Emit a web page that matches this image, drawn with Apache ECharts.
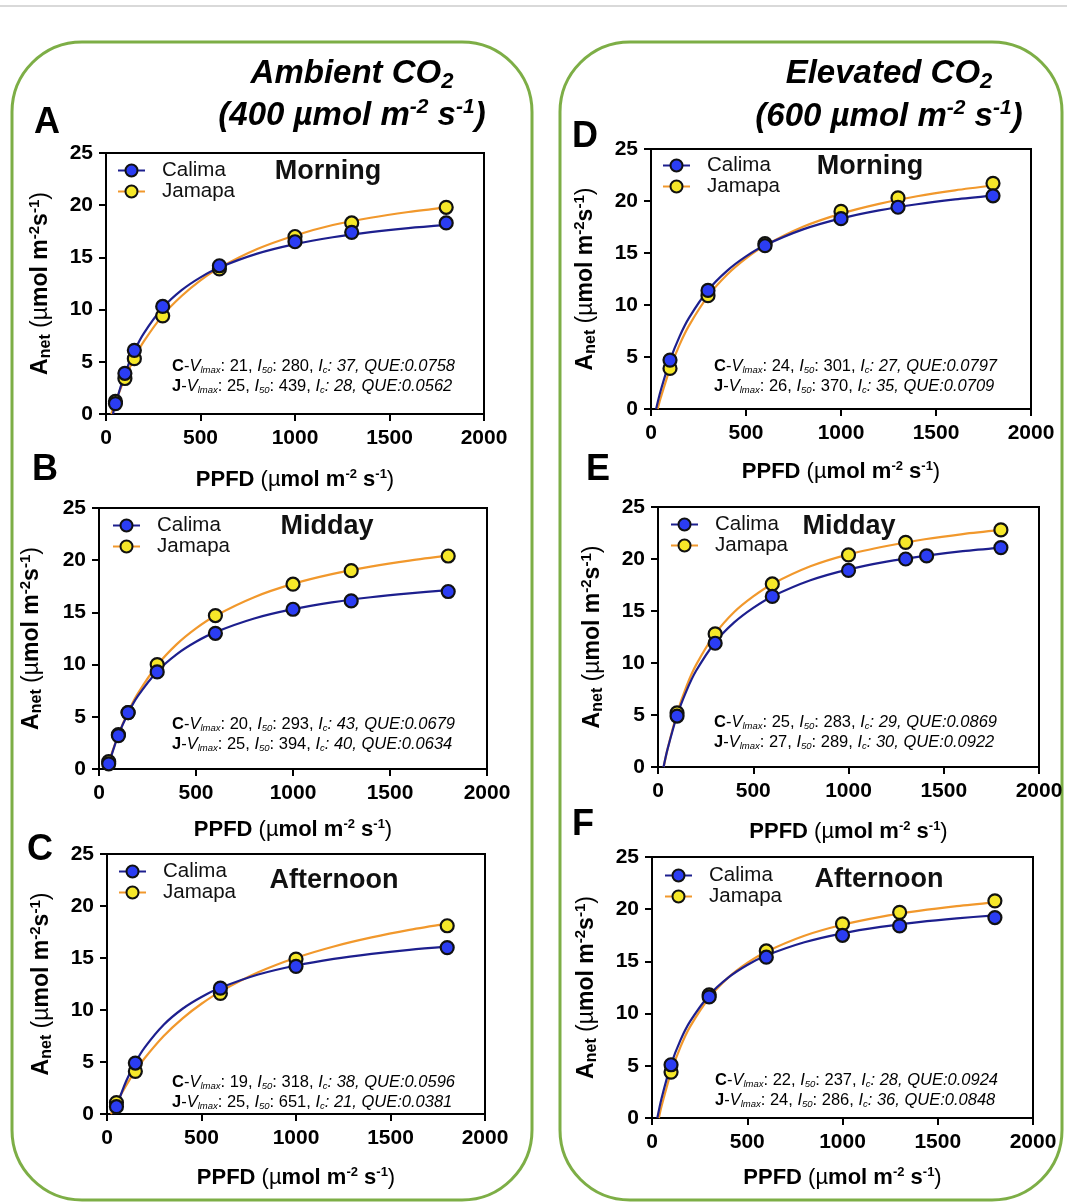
<!DOCTYPE html>
<html><head><meta charset="utf-8">
<script src="https://cdn.jsdelivr.net/npm/echarts@6/dist/echarts.min.js"></script>
<style>html,body{margin:0;padding:0;background:#fff}#c{width:1067px;height:1202px}</style>
</head><body><div id="c"></div>
<script>
// ---------- DATA ----------
const panelLetters = ['A','B','C','D','E','F'];
const periods = ['Morning','Midday','Afternoon','Morning','Midday','Afternoon'];
const cultivars = ['Calima','Jamapa'];
const xTickMax = 2000, xTickStep = 500;
const yTickMax = 25, yTickStep = 5;

// measured points (PPFD, Anet)
const ppfdA = [50,100,150,300,600,1000,1300,1800];
const calimaA = [1.0,3.9,6.1,10.3,14.2,16.5,17.4,18.3];
const jamapaA = [1.2,3.4,5.3,9.4,13.9,17.0,18.3,19.8];

const ppfdB = [50,100,150,300,600,1000,1300,1800];
const calimaB = [0.5,3.2,5.4,9.3,13.0,15.3,16.1,17.0];
const jamapaB = [0.7,3.3,5.4,10.0,14.7,17.7,19.0,20.4];

const ppfdC = [50,150,600,1000,1800];
const calimaC = [0.7,4.9,12.1,14.2,16.0];
const jamapaC = [1.1,4.1,11.6,14.9,18.1];

const ppfdD = [100,300,600,1000,1300,1800];
const calimaD = [4.7,11.4,15.7,18.3,19.4,20.5];
const jamapaD = [3.9,10.9,15.9,19.0,20.3,21.7];

const ppfdECalima = [100,300,600,1000,1300,1410,1800];
const calimaE = [4.9,11.9,16.4,18.9,20.0,20.3,21.1];
const ppfdEJamapa = [100,300,600,1000,1300,1800];
const jamapaE = [5.2,12.8,17.6,20.4,21.6,22.8];

const ppfdF = [100,300,600,1000,1300,1800];
const calimaF = [5.1,11.6,15.4,17.5,18.4,19.2];
const jamapaF = [4.4,11.8,16.0,18.6,19.7,20.8];

// fitted light-response curves at these PPFD values
const fitPPFD = [50,100,150,200,300,400,500,600,800,1000,1200,1400,1600,1800];
const fitCalimaA = [0.93,3.86,6.04,7.73,10.17,11.86,13.09,14.03,15.36,16.27,16.93,17.42,17.81,18.12];
const fitJamapaA = [1.15,3.45,5.35,6.95,9.45,11.3,12.8,14.0,15.8,17.1,18.1,18.8,19.35,19.8];
const fitCalimaB = [0.47,3.26,5.35,6.98,9.35,10.99,12.19,13.11,14.42,15.31,15.96,16.45,16.83,17.14];
const fitJamapaB = [0.62,3.30,5.46,7.22,9.94,11.94,13.47,14.68,16.46,17.73,18.66,19.38,19.96,20.43];
const fitCalimaC = [0.69,3.10,4.95,6.41,8.58,10.12,11.25,12.13,13.41,14.28,14.92,15.40,15.79,16.10];
const fitJamapaC = [1.07,2.71,4.14,5.39,7.50,9.20,10.60,11.77,13.62,15.02,16.11,16.98,17.70,18.30];
const fitCalimaD = [1.70,4.68,6.96,8.76,11.42,13.28,14.67,15.74,17.27,18.33,19.10,19.69,20.15,20.52];
const fitJamapaD = [1.01,3.89,6.17,8.02,10.85,12.91,14.48,15.71,17.52,18.79,19.73,20.46,21.03,21.49];
const fitCalimaE = [1.70,4.95,7.35,9.25,12.0,13.9,15.3,16.4,17.95,19.0,19.75,20.3,20.75,21.1];
const fitJamapaE = [1.72,5.17,7.78,9.82,12.8,14.9,16.4,17.6,19.3,20.45,21.25,21.9,22.4,22.8];
const fitCalimaF = [1.87,5.13,7.48,9.25,11.76,13.44,14.65,15.56,16.83,17.69,18.30,18.76,19.12,19.41];
const fitJamapaF = [1.12,4.39,6.84,8.75,11.52,13.44,14.85,15.93,17.46,18.51,19.27,19.84,20.29,20.65];

// fit parameters (panels A..F)
const vmaxCalima = [21,20,19,24,25,22];
const i50Calima = [280,293,318,301,283,237];
const icCalima = [37,43,38,27,29,28];
const queCalima = ['0.0758','0.0679','0.0596','0.0797','0.0869','0.0924'];
const vmaxJamapa = [25,25,25,26,27,24];
const i50Jamapa = [439,394,651,370,289,286];
const icJamapa = [28,40,21,35,30,36];
const queJamapa = ['0.0562','0.0634','0.0381','0.0709','0.0922','0.0848'];

// ---------- LAYOUT ----------
const layout = [
  {l:106,t:153,w:378,h:261, letter:[47,123], period:[328,172], legend:[117,160], note:[172,366], xGap:54, yGap:52},
  {l:99, t:508,w:388,h:261, letter:[45,470], period:[327,527], legend:[112,515], note:[172,724], xGap:49, yGap:54},
  {l:107,t:854,w:378,h:260, letter:[40,850], period:[334,881], legend:[118,861], note:[172,1082], xGap:52, yGap:52},
  {l:651,t:149,w:380,h:260, letter:[585,137], period:[870,167], legend:[662,155], note:[714,366], xGap:51, yGap:52},
  {l:658,t:507,w:381,h:260, letter:[598,470], period:[849,527], legend:[670,514], note:[714,722], xGap:53, yGap:52},
  {l:652,t:857,w:381,h:261, letter:[583,825], period:[879,880], legend:[664,865], note:[715,1080], xGap:48, yGap:52}
];

const FONT = "'Liberation Sans', Arial, Helvetica, sans-serif";
const COL = {
  calLine:'#1d1f8e', calFill:'#2b3df3',
  jamLine:'#f1982c', jamFill:'#f6e829'
};

const pts = [
  [ppfdA, calimaA, ppfdA, jamapaA],
  [ppfdB, calimaB, ppfdB, jamapaB],
  [ppfdC, calimaC, ppfdC, jamapaC],
  [ppfdD, calimaD, ppfdD, jamapaD],
  [ppfdECalima, calimaE, ppfdEJamapa, jamapaE],
  [ppfdF, calimaF, ppfdF, jamapaF]
];
const fits = [
  [fitCalimaA, fitJamapaA],[fitCalimaB, fitJamapaB],[fitCalimaC, fitJamapaC],
  [fitCalimaD, fitJamapaD],[fitCalimaE, fitJamapaE],[fitCalimaF, fitJamapaF]
];

const zip = (xs, ys) => xs.map((x,i)=>[x, ys[i]]);
const curve = (ic, ys) => [[ic,0]].concat(zip(fitPPFD, ys));

const grid = [], xAxis = [], yAxis = [], series = [], legend = [], graphic = [];

const yNameRich = {
  a:{fontSize:23,fontWeight:'bold',fontFamily:FONT,color:'#000',lineHeight:27},
  sb:{fontSize:16,fontWeight:'bold',fontFamily:FONT,color:'#000',lineHeight:15,verticalAlign:'bottom'},
  r:{fontSize:23,fontWeight:'normal',fontFamily:FONT,color:'#000',lineHeight:27},
  sp:{fontSize:15,fontWeight:'bold',fontFamily:FONT,color:'#000',lineHeight:14,verticalAlign:'top'}
};
const xNameRich = {
  a:{fontSize:22,fontWeight:'bold',fontFamily:FONT,color:'#000',lineHeight:24},
  r:{fontSize:22,fontWeight:'normal',fontFamily:FONT,color:'#000',lineHeight:24},
  sp:{fontSize:13,fontWeight:'bold',fontFamily:FONT,color:'#000',lineHeight:12,verticalAlign:'top'}
};
const noteRich = {
  b:{fontSize:16.5,fontWeight:'bold',fontFamily:FONT,color:'#111',lineHeight:19},
  n:{fontSize:16.5,fontFamily:FONT,color:'#111',lineHeight:19},
  i:{fontSize:16.5,fontStyle:'italic',fontFamily:FONT,color:'#111',lineHeight:19},
  s:{fontSize:9.5,fontStyle:'italic',fontFamily:FONT,color:'#111',lineHeight:12,verticalAlign:'bottom'}
};
const noteText = (p,v,i50,ic,q) =>
  `{b|${p}}{n|-}{i|V}{s|lmax}{n|: ${v}, }{i|I}{s|50}{n|: ${i50}, }{i|I}{s|c}{i|: ${ic}, QUE:${q}}`;
const plain = v => String(v);

layout.forEach((L,k)=>{
  grid.push({left:L.l, top:L.t, width:L.w, height:L.h, show:true, borderColor:'#000', borderWidth:2, backgroundColor:'transparent', outerBoundsMode:'none', containLabel:false});
  xAxis.push({type:'value', gridIndex:k, min:0, max:xTickMax, interval:xTickStep,
    axisLine:{show:true,onZero:false,lineStyle:{color:'#000',width:2}},
    axisTick:{show:true,length:7,lineStyle:{color:'#000',width:2}},
    splitLine:{show:false},
    axisLabel:{fontSize:21,fontWeight:'bold',fontFamily:FONT,color:'#000',margin:14,formatter:plain},
    name:'{a|PPFD }{r|(µ}{a|mol m}{sp|-2}{a| s}{sp|-1}{r|)}', nameLocation:'middle', nameGap:L.xGap,
    nameTextStyle:{rich:xNameRich}
  });
  yAxis.push({type:'value', gridIndex:k, min:0, max:yTickMax, interval:yTickStep,
    axisLine:{show:true,onZero:false,lineStyle:{color:'#000',width:2}},
    axisTick:{show:true,length:7,lineStyle:{color:'#000',width:2}},
    splitLine:{show:false},
    axisLabel:{fontSize:21,fontWeight:'bold',fontFamily:FONT,color:'#000',margin:13,formatter:plain},
    name:'{a|A}{sb|net}{r| (µ}{a|mol m}{sp|-2}{a|s}{sp|-1}{r|)}', nameLocation:'middle', nameGap:L.yGap, nameRotate:90,
    nameTextStyle:{rich:yNameRich}
  });
  const [cx, cy, jx, jy] = pts[k];
  const [fc, fj] = fits[k];
  series.push({type:'line', name:'Jamapa', xAxisIndex:k, yAxisIndex:k, data:curve(icJamapa[k], fj),
    smooth:0.3, showSymbol:false, symbol:'circle', symbolSize:12,
    lineStyle:{color:COL.jamLine,width:2.2}, itemStyle:{color:COL.jamFill,borderColor:'#111',borderWidth:1.8}, z:2, silent:true});
  series.push({type:'line', name:'Calima', xAxisIndex:k, yAxisIndex:k, data:curve(icCalima[k], fc),
    smooth:0.3, showSymbol:false, symbol:'circle', symbolSize:12,
    lineStyle:{color:COL.calLine,width:2.2}, itemStyle:{color:COL.calFill,borderColor:'#111',borderWidth:1.8}, z:2, silent:true});
  series.push({type:'scatter', name:'Jamapa points', xAxisIndex:k, yAxisIndex:k, data:zip(jx, jy),
    symbol:'circle', symbolSize:13, itemStyle:{color:COL.jamFill,borderColor:'#111',borderWidth:2.2,opacity:1}, z:3, silent:true});
  series.push({type:'scatter', name:'Calima points', xAxisIndex:k, yAxisIndex:k, data:zip(cx, cy),
    symbol:'circle', symbolSize:13, itemStyle:{color:COL.calFill,borderColor:'#111',borderWidth:2.2,opacity:1}, z:4, silent:true});
  legend.push({left:L.legend[0], top:L.legend[1], orient:'vertical', itemGap:0, itemWidth:27, itemHeight:15,
    data:cultivars, selectedMode:false, padding:0,
    textStyle:{fontSize:20.5, fontFamily:FONT, color:'#111', lineHeight:20, padding:[0,0,0,12]}});
  graphic.push({type:'text', x:L.letter[0], y:L.letter[1], style:{text:panelLetters[k], fontSize:36, fontWeight:'bold', fontFamily:FONT, fill:'#000', align:'center', verticalAlign:'middle'}});
  graphic.push({type:'text', x:L.period[0], y:L.period[1], style:{text:periods[k], fontSize:27, fontWeight:'bold', fontFamily:FONT, fill:'#111', align:'center', verticalAlign:'middle'}});
  graphic.push({type:'text', x:L.note[0], y:L.note[1], style:{text:noteText('C',vmaxCalima[k],i50Calima[k],icCalima[k],queCalima[k]), rich:noteRich, align:'left', verticalAlign:'middle'}});
  graphic.push({type:'text', x:L.note[0], y:L.note[1]+20, style:{text:noteText('J',vmaxJamapa[k],i50Jamapa[k],icJamapa[k],queJamapa[k]), rich:noteRich, align:'left', verticalAlign:'middle'}});
});

// frames and headers
const titleRich = {
  t:{fontSize:33,fontWeight:'bold',fontStyle:'italic',fontFamily:FONT,color:'#000',lineHeight:38},
  sb:{fontSize:22,fontWeight:'bold',fontStyle:'italic',fontFamily:FONT,color:'#000',lineHeight:20,verticalAlign:'bottom'},
  sp:{fontSize:21,fontWeight:'bold',fontStyle:'italic',fontFamily:FONT,color:'#000',lineHeight:20,verticalAlign:'top'}
};
graphic.push({type:'line', shape:{x1:0,y1:6,x2:1067,y2:6}, style:{stroke:'#cccccc', lineWidth:1.5}, silent:true});
graphic.push({type:'rect', shape:{x:12,y:42,width:520,height:1158,r:70}, style:{fill:'none', stroke:'#7dae46', lineWidth:3}, silent:true});
graphic.push({type:'rect', shape:{x:560,y:42,width:502,height:1158,r:70}, style:{fill:'none', stroke:'#7dae46', lineWidth:3}, silent:true});
graphic.push({type:'text', x:352, y:74, style:{text:'{t|Ambient CO}{sb|2}', rich:titleRich, align:'center', verticalAlign:'middle'}});
graphic.push({type:'text', x:352, y:116, style:{text:'{t|(400 µmol m}{sp|-2}{t| s}{sp|-1}{t|)}', rich:titleRich, align:'center', verticalAlign:'middle'}});
graphic.push({type:'text', x:889, y:74, style:{text:'{t|Elevated CO}{sb|2}', rich:titleRich, align:'center', verticalAlign:'middle'}});
graphic.push({type:'text', x:889, y:117, style:{text:'{t|(600 µmol m}{sp|-2}{t| s}{sp|-1}{t|)}', rich:titleRich, align:'center', verticalAlign:'middle'}});

const chart = echarts.init(document.getElementById('c'), null, {renderer:'canvas'});
chart.setOption({animation:false, backgroundColor:'#fff', grid, xAxis, yAxis, series, legend, graphic});
</script></body></html>
